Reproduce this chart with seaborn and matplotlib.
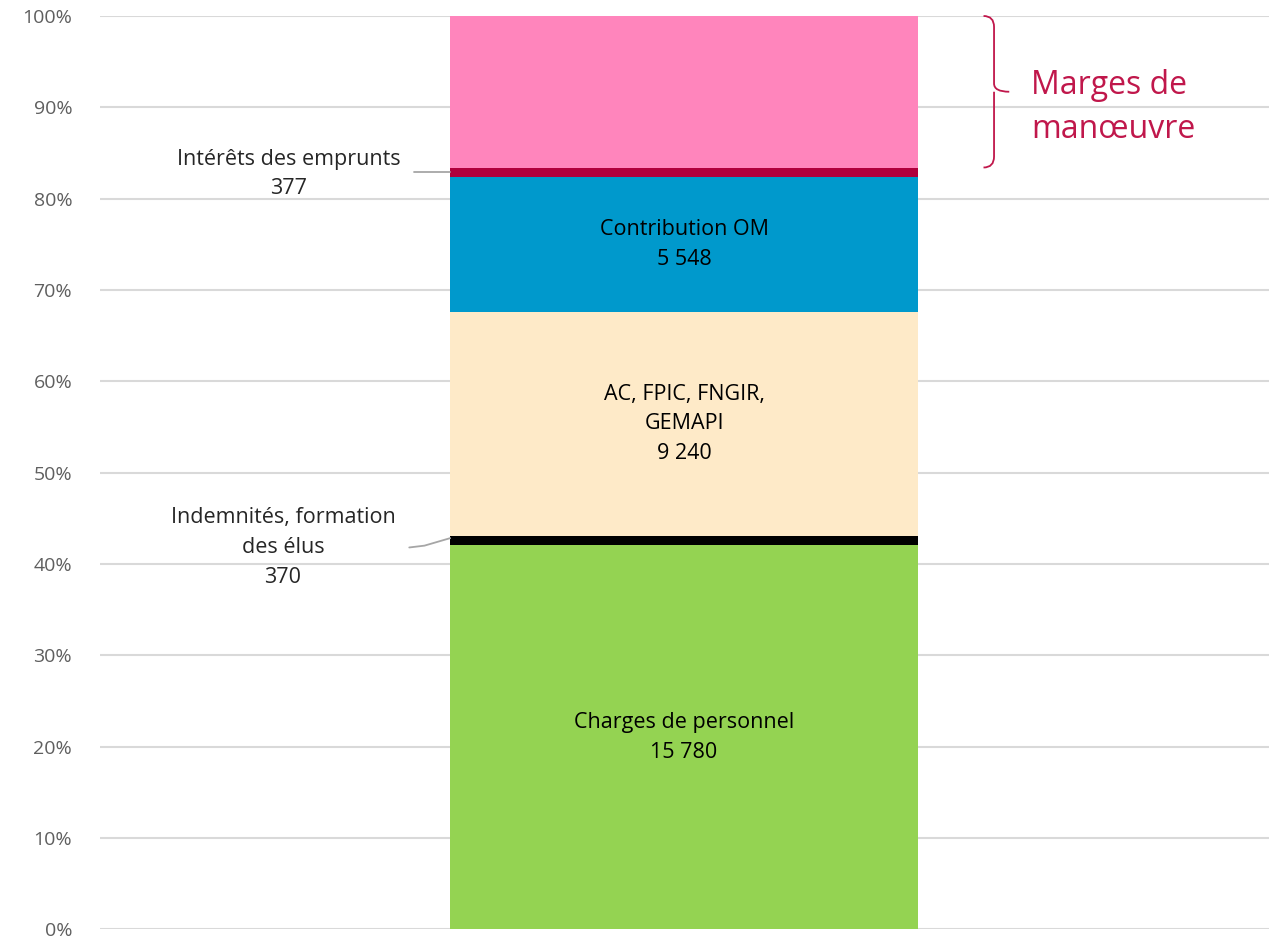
import numpy as np
import pandas as pd
import seaborn as sns
import matplotlib.pyplot as plt
from matplotlib.path import Path
from matplotlib.patches import PathPatch

# stacked segments, bottom to top
postes = ["Charges de personnel", "Indemnités, formation des élus",
          "AC, FPIC, FNGIR, GEMAPI", "Contribution OM",
          "Intérêts des emprunts", "Marges de manœuvre"]
montants = [15780, 370, 9240, 5548, 377, 6230]
couleurs = ["#94D352", "#000000", "#FEEAC8", "#0099CC", "#B0003C", "#FF85BC"]
etiquettes_dedans = ["Charges de personnel\n15 780", None,
                     "AC, FPIC, FNGIR,\nGEMAPI\n9 240", "Contribution OM\n5 548",
                     None, None]

sns.set_theme(style="white")
plt.rcParams['font.family'] = ['Open Sans', 'DejaVu Sans']

parts = np.array(montants) / sum(montants) * 100
hauts = np.cumsum(parts)
bas = hauts - parts

fig, ax = plt.subplots(figsize=(12.81, 9.4), dpi=100)
fig.subplots_adjust(left=0.078, right=0.991, bottom=0.0115, top=0.983)

# draw cumulative bars from the top down so each covers the one below
for i in range(len(postes) - 1, -1, -1):
    df = pd.DataFrame({"cat": ["total"], "pct": [hauts[i]]})
    sns.barplot(data=df, x="cat", y="pct", color=couleurs[i], width=0.4,
                saturation=1, linewidth=0, ax=ax, zorder=2)

ax.set_xlim(-0.4995, 0.5005)
ax.set_ylim(0, 100)
ax.set_yticks(range(0, 101, 10))
ax.set_yticklabels([f"{v}%" for v in range(0, 101, 10)], fontsize=14,
                   color="#5F5F5F")
ax.set_xticks([])
ax.set_xlabel("")
ax.set_ylabel("")
ax.yaxis.grid(True, color="#D9D9D9", lw=1.5, zorder=0)
ax.set_axisbelow(True)
for s in ax.spines.values():
    s.set_visible(False)
ax.tick_params(axis="y", length=0, pad=20)

for i, txt in enumerate(etiquettes_dedans):
    if txt:
        ax.text(0, (bas[i] + hauts[i]) / 2, txt, ha="center", va="center",
                fontsize=15.5, color="#000000", linespacing=1.55, zorder=3)

# side labels with leader lines
y_int = (bas[4] + hauts[4]) / 2
ax.text(-0.338, y_int - 0.2, "Intérêts des emprunts\n377", ha="center",
        va="center", fontsize=15.5, linespacing=1.55)
ax.plot([-0.231, -0.2], [y_int, y_int], color="#A6A6A6", lw=1.3)

y_ind = (bas[1] + hauts[1]) / 2
ax.text(-0.343, 41.8, "Indemnités, formation\ndes élus\n370", ha="center",
        va="center", fontsize=15.5, linespacing=1.55)
ax.plot([-0.235, -0.222, -0.2], [41.8, 42.0, y_ind + 0.3], color="#A6A6A6", lw=1.3)

# brace for marges de manoeuvre
top, bot = 100, hauts[4]
mid = (top + bot) / 2
x0, x1, xt = 0.256, 0.265, 0.278
verts = [(x0, top), (x1, top), (x1, top - 1.2),
         (x1, mid + 0.9), (x1, mid), (xt, mid),
         (x1, mid), (x1, mid - 0.9),
         (x1, bot + 1.2), (x1, bot), (x0, bot)]
codes = [Path.MOVETO, Path.CURVE3, Path.CURVE3,
         Path.LINETO, Path.CURVE3, Path.CURVE3,
         Path.MOVETO, Path.CURVE3,
         Path.LINETO, Path.CURVE3, Path.CURVE3]
ax.add_patch(PathPatch(Path(verts, codes), fill=False, edgecolor="#C0174B",
                       lw=1.3, clip_on=False))
ax.text(0.297, mid - 1.75, "Marges de\nmanœuvre", ha="left", va="center",
        fontsize=23, color="#C0174B", linespacing=1.45)

fig.savefig("out.png", dpi=100)
